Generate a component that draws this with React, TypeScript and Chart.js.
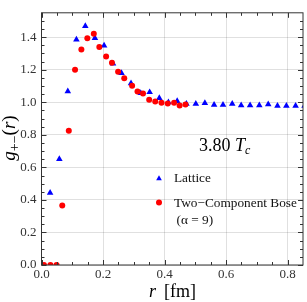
import React, { useEffect, useRef } from "react";
import { Chart, registerables } from "chart.js";
Chart.register(...registerables);

const latticeR = [0.028, 0.058, 0.0855, 0.1135, 0.1424, 0.1736, 0.2035, 0.2325, 0.26, 0.291, 0.3225, 0.3515, 0.383, 0.4125, 0.441, 0.471, 0.5016, 0.531, 0.561, 0.59, 0.62, 0.649, 0.678, 0.708, 0.737, 0.767, 0.796, 0.826, 0.855];
const latticeG = [0.444, 0.651, 1.068, 1.385, 1.469, 1.395, 1.348, 1.238, 1.179, 1.116, 1.057, 1.062, 1.026, 1.0, 1.007, 0.99, 0.991, 0.995, 0.985, 0.985, 0.99, 0.981, 0.981, 0.981, 0.987, 0.978, 0.978, 0.978, 0.978];
const boseR = [0.008, 0.029, 0.049, 0.0675, 0.0887, 0.109, 0.1296, 0.149, 0.17, 0.188, 0.21, 0.229, 0.249, 0.269, 0.2945, 0.312, 0.33, 0.35, 0.3697, 0.39, 0.4103, 0.431, 0.449, 0.468];
const boseG = [0, 0, 0, 0.365, 0.825, 1.2, 1.325, 1.393, 1.422, 1.34, 1.281, 1.243, 1.187, 1.148, 1.101, 1.066, 1.054, 1.015, 1.005, 0.997, 0.993, 0.997, 0.981, 0.987];
const xTicks = [0, 0.2, 0.4, 0.6, 0.8];
const yTicks = [0, 0.2, 0.4, 0.6, 0.8, 1.0, 1.2, 1.4];
const xMinorTicks = [0, 0.05, 0.1, 0.15, 0.2, 0.25, 0.3, 0.35, 0.4, 0.45, 0.5, 0.55, 0.6, 0.65, 0.7, 0.75, 0.8];
const yMinorTicks = [0, 0.05, 0.1, 0.15, 0.2, 0.25, 0.3, 0.35, 0.4, 0.45, 0.5, 0.55, 0.6, 0.65, 0.7, 0.75, 0.8, 0.85, 0.9, 0.95, 1.0, 1.05, 1.1, 1.15, 1.2, 1.25, 1.3, 1.35, 1.4, 1.45, 1.5];
const latticeLabel = "Lattice";
const boseLabel = "Two\u2212Component Bose";
const boseSubLabel = "(\u03b1 = 9)";
const tempLabel = "3.80 ";

const SERIF = "'Liberation Serif', 'DejaVu Serif', serif";
const BLUE = "#0000ff";
const RED = "#ff0000";
const FRAME = "#333333";

const decorPlugin = {
  id: "decor",
  afterDraw(chart: any) {
    const { ctx, chartArea: a, scales } = chart;
    const xs = scales.x;
    const ys = scales.y;
    ctx.save();
    // frame
    ctx.strokeStyle = FRAME;
    ctx.lineWidth = 1;
    ctx.strokeRect(a.left, a.top, a.right - a.left, a.bottom - a.top);
    // ticks
    ctx.beginPath();
    xMinorTicks.forEach((v) => {
      const major = xTicks.some((t) => Math.abs(t - v) < 1e-9);
      const len = major ? 5 : 3;
      const px = Math.round(xs.getPixelForValue(v)) + 0.5;
      ctx.moveTo(px, a.bottom);
      ctx.lineTo(px, a.bottom - len);
      ctx.moveTo(px, a.top);
      ctx.lineTo(px, a.top + len);
    });
    yMinorTicks.forEach((v) => {
      const major = yTicks.some((t) => Math.abs(t - v) < 1e-9);
      const len = major ? 5 : 3;
      const py = Math.round(ys.getPixelForValue(v)) + 0.5;
      ctx.moveTo(a.left, py);
      ctx.lineTo(a.left + len, py);
      ctx.moveTo(a.right, py);
      ctx.lineTo(a.right - len, py);
    });
    ctx.stroke();

    ctx.fillStyle = "#000";
    ctx.textBaseline = "alphabetic";
    ctx.textAlign = "left";

    // x axis title
    ctx.font = `italic 18px ${SERIF}`;
    let x = 149;
    ctx.fillText("r", x, 297);
    x += ctx.measureText("r").width + 8;
    ctx.font = `18px ${SERIF}`;
    ctx.fillText("[fm]", x, 297);

    // y axis title
    ctx.save();
    ctx.translate(15, 138);
    ctx.rotate(-Math.PI / 2);
    const parts: [string, string, number][] = [
      ["g", `italic 19px ${SERIF}`, 0],
      ["+\u2212", `14px ${SERIF}`, 4],
      ["(", `19px ${SERIF}`, 0],
      ["r", `italic 19px ${SERIF}`, 0],
      [")", `19px ${SERIF}`, 0],
    ];
    let total = 0;
    parts.forEach(([t, f]) => {
      ctx.font = f;
      total += ctx.measureText(t).width;
    });
    let cx = -total / 2;
    parts.forEach(([t, f, dy]) => {
      ctx.font = f;
      ctx.fillText(t, cx, dy);
      cx += ctx.measureText(t).width;
    });
    ctx.restore();

    // temperature annotation
    ctx.font = `18px ${SERIF}`;
    x = 199;
    ctx.fillText(tempLabel, x, 150.5);
    x += ctx.measureText(tempLabel).width;
    ctx.font = `italic 18px ${SERIF}`;
    ctx.fillText("T", x, 150.5);
    x += ctx.measureText("T").width;
    ctx.font = `italic 12px ${SERIF}`;
    ctx.fillText("c", x, 154);

    // legend
    ctx.fillStyle = BLUE;
    ctx.beginPath();
    const tr = 3.3;
    const tx = 159, ty = 178.5;
    ctx.moveTo(tx, ty - tr);
    ctx.lineTo(tx + tr * 0.866, ty + tr * 0.5);
    ctx.lineTo(tx - tr * 0.866, ty + tr * 0.5);
    ctx.closePath();
    ctx.fill();
    ctx.fillStyle = RED;
    ctx.beginPath();
    ctx.arc(159, 202.5, 3, 0, Math.PI * 2);
    ctx.fill();

    ctx.fillStyle = "#111";
    ctx.font = `13.3px ${SERIF}`;
    ctx.fillText(latticeLabel, 174, 182);
    ctx.fillText(boseLabel, 174, 207);
    ctx.fillText(boseSubLabel, 176.5, 224);
    ctx.restore();
  },
};

export default function App() {
  const ref = useRef<HTMLCanvasElement | null>(null);
  useEffect(() => {
    document.body.style.margin = "0";
    if (!ref.current) return;
    const chart = new Chart(ref.current, {
      type: "scatter",
      data: {
        datasets: [
          {
            label: boseLabel,
            data: boseR.map((r, i) => ({ x: r, y: boseG[i] })),
            pointStyle: "circle",
            pointRadius: 3,
            pointBorderWidth: 0,
            backgroundColor: RED,
            borderColor: RED,
          },
          {
            label: latticeLabel,
            data: latticeR.map((r, i) => ({ x: r, y: latticeG[i] })),
            pointStyle: "triangle",
            pointRadius: 3.8,
            pointBorderWidth: 0,
            backgroundColor: BLUE,
            borderColor: BLUE,
          },
        ],
      },
      plugins: [decorPlugin],
      options: {
        animation: false,
        responsive: false,
        maintainAspectRatio: false,
        devicePixelRatio: 1,
        layout: { padding: { left: 0, top: 1, right: 1, bottom: 0 } },
        plugins: { legend: { display: false }, tooltip: { enabled: false } },
        scales: {
          x: {
            type: "linear",
            min: 0,
            max: 0.85,
            afterBuildTicks: (s: any) => {
              s.ticks = xTicks.map((v) => ({ value: v }));
            },
            afterFit: (s: any) => {
              s.height = 37;
            },
            grid: { color: "rgba(0,0,0,0.12)", drawTicks: false },
            border: { display: false },
            ticks: {
              padding: 2,
              color: "#333",
              font: { family: SERIF, size: 13 },
              maxRotation: 0,
              autoSkip: false,
              callback: (v: any) => Number(v).toFixed(1),
            },
          },
          y: {
            type: "linear",
            min: 0,
            max: 1.55,
            afterBuildTicks: (s: any) => {
              s.ticks = yTicks.map((v) => ({ value: v }));
            },
            afterFit: (s: any) => {
              s.width = 41.5;
            },
            grid: { color: "rgba(0,0,0,0.12)", drawTicks: false },
            border: { display: false },
            ticks: {
              padding: 5,
              color: "#333",
              font: { family: SERIF, size: 13 },
              autoSkip: false,
              callback: (v: any) => Number(v).toFixed(1),
            },
          },
        },
      },
    });
    return () => chart.destroy();
  }, []);
  return (
    <div style={{ position: "absolute", left: 0, top: 0, width: 307, height: 302 }}>
      <canvas ref={ref} width={307} height={302} style={{ width: 307, height: 302 }} />
    </div>
  );
}
